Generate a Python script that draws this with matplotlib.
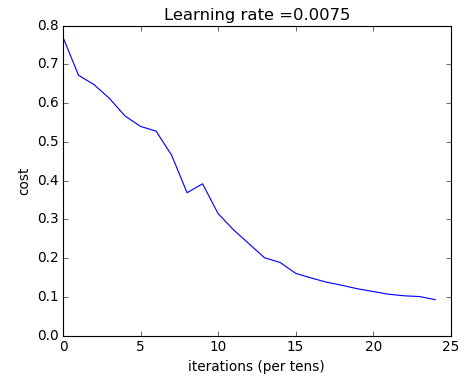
import numpy as np
import matplotlib
matplotlib.use("Agg")
import matplotlib.pyplot as plt

# cost per ten iterations
iterations = list(range(25))
costs = [0.770, 0.672, 0.648, 0.612, 0.567, 0.540, 0.528, 0.466, 0.369,
         0.392, 0.315, 0.273, 0.237, 0.201, 0.189, 0.161, 0.149, 0.138,
         0.130, 0.121, 0.114, 0.107, 0.103, 0.101, 0.093]
learning_rate = 0.0075

plt.style.use("classic")
fig = plt.figure(figsize=(476 / 82, 382 / 82), dpi=82)
ax = fig.add_axes([0.1324, 0.1212, 0.8144, 0.8115])

ax.plot(iterations, costs)
ax.set_xlim(0, 25)
ax.set_ylim(0, 0.8)
ax.set_ylabel("cost")
ax.set_xlabel("iterations (per tens)")
ax.set_title("Learning rate =" + str(learning_rate))

fig.savefig("out.png", dpi=82)
